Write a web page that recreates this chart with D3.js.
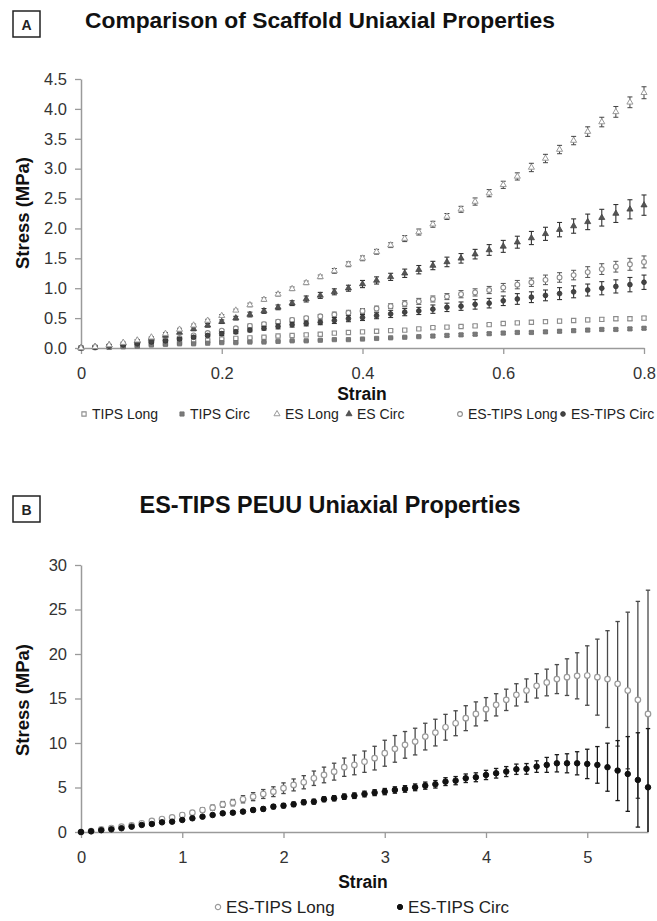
<!DOCTYPE html>
<html>
<head>
<meta charset="utf-8">
<script src="https://cdn.jsdelivr.net/npm/d3@7"></script>
<style>
  html, body { margin: 0; padding: 0; background: #fff; }
  svg { display: block; font-family: "Liberation Sans", Arial, sans-serif; }
</style>
</head>
<body>
<svg id="chart" width="657" height="921"></svg>
<script>
"use strict";

// ---- Panel A data (strain 0 - 0.8, stress in MPa) ----
var strainA = [0, 0.02, 0.04, 0.06, 0.08, 0.10, 0.12, 0.14, 0.16, 0.18, 0.20, 0.22, 0.24, 0.26, 0.28, 0.30, 0.32, 0.34, 0.36, 0.38, 0.40,
  0.42, 0.44, 0.46, 0.48, 0.50, 0.52, 0.54, 0.56, 0.58, 0.60, 0.62, 0.64, 0.66, 0.68, 0.70, 0.72, 0.74, 0.76, 0.78, 0.80];

var tipsLong = [0, 0.01, 0.02, 0.03, 0.05, 0.07, 0.08, 0.10, 0.12, 0.13, 0.15, 0.16, 0.17, 0.18, 0.20, 0.21, 0.22, 0.23, 0.25, 0.26, 0.27,
  0.28, 0.29, 0.30, 0.32, 0.34, 0.35, 0.36, 0.37, 0.39, 0.41, 0.42, 0.43, 0.44, 0.45, 0.46, 0.47, 0.48, 0.49, 0.49, 0.50];
var tipsLongErr = [0, 0, 0.01, 0.01, 0.01, 0.01, 0.01, 0.01, 0.01, 0.01, 0.01, 0.01, 0.01, 0.01, 0.01, 0.01, 0.02, 0.02, 0.02, 0.02, 0.02,
  0.02, 0.02, 0.02, 0.02, 0.02, 0.02, 0.02, 0.02, 0.02, 0.02, 0.02, 0.03, 0.03, 0.03, 0.03, 0.03, 0.03, 0.03, 0.03, 0.03];

var tipsCirc = [0, 0.01, 0.01, 0.02, 0.03, 0.05, 0.06, 0.07, 0.07, 0.08, 0.09, 0.09, 0.10, 0.10, 0.11, 0.12, 0.12, 0.13, 0.14, 0.14, 0.15,
  0.16, 0.17, 0.18, 0.19, 0.20, 0.21, 0.22, 0.23, 0.24, 0.25, 0.26, 0.26, 0.27, 0.28, 0.29, 0.30, 0.31, 0.31, 0.32, 0.33];
var tipsCircErr = [0, 0, 0, 0.01, 0.01, 0.01, 0.01, 0.01, 0.01, 0.01, 0.01, 0.01, 0.01, 0.01, 0.01, 0.01, 0.01, 0.01, 0.01, 0.01, 0.01,
  0.01, 0.01, 0.01, 0.01, 0.02, 0.02, 0.02, 0.02, 0.02, 0.02, 0.02, 0.02, 0.02, 0.02, 0.02, 0.02, 0.02, 0.02, 0.02, 0.02];

var esLong = [0, 0.02, 0.05, 0.09, 0.13, 0.18, 0.24, 0.31, 0.38, 0.46, 0.54, 0.63, 0.72, 0.81, 0.90, 0.99, 1.09, 1.19, 1.29, 1.40, 1.50,
  1.61, 1.72, 1.83, 1.94, 2.07, 2.20, 2.32, 2.45, 2.59, 2.73, 2.87, 3.02, 3.17, 3.32, 3.47, 3.62, 3.78, 3.95, 4.11, 4.27];
var esLongErr = [0, 0.01, 0.01, 0.01, 0.01, 0.01, 0.02, 0.02, 0.02, 0.02, 0.02, 0.02, 0.03, 0.03, 0.03, 0.03, 0.03, 0.03, 0.04, 0.04, 0.04,
  0.04, 0.04, 0.05, 0.05, 0.05, 0.05, 0.05, 0.06, 0.06, 0.06, 0.06, 0.07, 0.07, 0.07, 0.07, 0.08, 0.08, 0.09, 0.09, 0.10];

var esCirc = [0, 0.02, 0.05, 0.08, 0.12, 0.16, 0.21, 0.26, 0.32, 0.38, 0.44, 0.50, 0.56, 0.62, 0.68, 0.75, 0.82, 0.88, 0.94, 1.00, 1.07,
  1.13, 1.19, 1.25, 1.31, 1.38, 1.44, 1.50, 1.57, 1.64, 1.70, 1.77, 1.84, 1.91, 1.98, 2.04, 2.11, 2.18, 2.25, 2.32, 2.39];
var esCircErr = [0, 0.01, 0.01, 0.01, 0.02, 0.02, 0.02, 0.02, 0.03, 0.03, 0.03, 0.03, 0.04, 0.04, 0.04, 0.04, 0.05, 0.05, 0.05, 0.05, 0.06,
  0.06, 0.06, 0.07, 0.07, 0.07, 0.08, 0.08, 0.08, 0.09, 0.10, 0.10, 0.11, 0.11, 0.12, 0.12, 0.13, 0.14, 0.15, 0.16, 0.17];

var esTipsLongA = [0, 0.01, 0.03, 0.05, 0.08, 0.11, 0.14, 0.17, 0.21, 0.25, 0.29, 0.33, 0.37, 0.40, 0.44, 0.47, 0.50, 0.53, 0.56, 0.59, 0.62,
  0.66, 0.70, 0.74, 0.78, 0.82, 0.86, 0.90, 0.93, 0.97, 1.01, 1.06, 1.10, 1.14, 1.18, 1.22, 1.27, 1.32, 1.36, 1.40, 1.44];
var esTipsLongAErr = [0, 0.01, 0.01, 0.01, 0.01, 0.01, 0.02, 0.02, 0.02, 0.02, 0.02, 0.02, 0.03, 0.03, 0.03, 0.03, 0.03, 0.03, 0.04, 0.04, 0.04,
  0.04, 0.04, 0.05, 0.05, 0.05, 0.05, 0.06, 0.06, 0.06, 0.07, 0.07, 0.07, 0.08, 0.08, 0.08, 0.09, 0.09, 0.09, 0.10, 0.10];

var esTipsCircA = [0, 0.01, 0.03, 0.05, 0.07, 0.10, 0.12, 0.15, 0.18, 0.21, 0.24, 0.27, 0.30, 0.33, 0.36, 0.39, 0.41, 0.43, 0.46, 0.49, 0.51,
  0.54, 0.57, 0.60, 0.62, 0.65, 0.68, 0.70, 0.73, 0.75, 0.79, 0.82, 0.85, 0.88, 0.91, 0.94, 0.97, 1.00, 1.03, 1.06, 1.10];
var esTipsCircAErr = [0, 0.01, 0.01, 0.01, 0.01, 0.02, 0.02, 0.02, 0.02, 0.02, 0.03, 0.03, 0.03, 0.03, 0.04, 0.04, 0.04, 0.04, 0.05, 0.05, 0.05,
  0.05, 0.06, 0.06, 0.06, 0.07, 0.07, 0.07, 0.08, 0.08, 0.08, 0.09, 0.09, 0.09, 0.10, 0.10, 0.10, 0.11, 0.11, 0.12, 0.12];

var yTicksA = [0, 0.5, 1.0, 1.5, 2.0, 2.5, 3.0, 3.5, 4.0, 4.5];
var xTicksA = [0, 0.2, 0.4, 0.6, 0.8];

// ---- Panel B data (strain 0 - 5.6) ----
var strainB = [0, 0.1, 0.2, 0.3, 0.4, 0.5, 0.6, 0.7, 0.8, 0.9, 1.0, 1.1, 1.2, 1.3, 1.4, 1.5, 1.6, 1.7, 1.8, 1.9,
  2.0, 2.1, 2.2, 2.3, 2.4, 2.5, 2.6, 2.7, 2.8, 2.9, 3.0, 3.1, 3.2, 3.3, 3.4, 3.5, 3.6, 3.7, 3.8, 3.9,
  4.0, 4.1, 4.2, 4.3, 4.4, 4.5, 4.6, 4.7, 4.8, 4.9, 5.0, 5.1, 5.2, 5.3, 5.4, 5.5, 5.6];

var esTipsLongB = [0, 0.10, 0.30, 0.45, 0.60, 0.75, 0.98, 1.24, 1.46, 1.65, 1.91, 2.17, 2.47, 2.73, 3.10, 3.30, 3.68, 3.97, 4.27, 4.53,
  4.92, 5.29, 5.59, 6.04, 6.41, 6.78, 7.28, 7.54, 7.90, 8.30, 8.85, 9.34, 9.79, 10.16, 10.72, 11.17, 11.77, 12.22, 12.79, 13.27,
  13.80, 14.29, 14.85, 15.41, 15.90, 16.42, 16.80, 17.18, 17.40, 17.55, 17.58, 17.40, 17.18, 16.65, 15.90, 14.85, 13.27];
var esTipsLongBErr = [0, 0.03, 0.05, 0.06, 0.08, 0.10, 0.12, 0.14, 0.16, 0.18, 0.20, 0.23, 0.26, 0.29, 0.32, 0.35, 0.40, 0.45, 0.50, 0.55,
  0.60, 0.67, 0.74, 0.81, 0.88, 0.95, 1.03, 1.11, 1.20, 1.33, 1.46, 1.50, 1.50, 1.50, 1.50, 1.50, 1.45, 1.40, 1.40, 1.35,
  1.30, 1.25, 1.20, 1.25, 1.30, 1.37, 1.50, 1.63, 2.06, 2.59, 3.34, 4.27, 5.44, 7.00, 8.80, 11.06, 13.90];

var esTipsCircB = [0, 0.08, 0.20, 0.30, 0.42, 0.60, 0.79, 0.90, 1.09, 1.16, 1.35, 1.54, 1.72, 1.91, 2.10, 2.17, 2.29, 2.47, 2.59, 2.85,
  2.96, 3.11, 3.34, 3.41, 3.68, 3.79, 3.97, 4.08, 4.27, 4.42, 4.54, 4.72, 4.84, 5.02, 5.21, 5.36, 5.66, 5.77, 6.04, 6.15,
  6.41, 6.60, 6.79, 7.05, 7.09, 7.35, 7.54, 7.72, 7.72, 7.72, 7.65, 7.54, 7.28, 6.90, 6.52, 5.85, 5.02];
var esTipsCircBErr = [0, 0.03, 0.05, 0.06, 0.08, 0.09, 0.10, 0.11, 0.12, 0.13, 0.14, 0.15, 0.16, 0.17, 0.18, 0.19, 0.20, 0.21, 0.22, 0.23,
  0.24, 0.25, 0.26, 0.27, 0.28, 0.29, 0.30, 0.31, 0.32, 0.33, 0.35, 0.36, 0.37, 0.38, 0.40, 0.42, 0.44, 0.46, 0.48, 0.50,
  0.52, 0.54, 0.56, 0.58, 0.60, 0.65, 0.84, 0.97, 1.07, 1.30, 1.65, 2.06, 2.70, 3.37, 4.20, 5.30, 6.60];

var yTicksB = [0, 5, 10, 15, 20, 25, 30];
var xTicksB = [0, 1, 2, 3, 4, 5];

var AXIS_COLOR = "#9a9a9a";
var TICK_TEXT_COLOR = "#333";

var svg = d3.select("#chart");
svg.append("rect").attr("width", 657).attr("height", 921).attr("fill", "#fff");

// small helper: series -> array of {x, y, e}
function zipSeries(xs, ys, es) {
  return xs.map(function (x, i) { return { x: x, y: ys[i], e: es[i] }; });
}

function panelLabel(letter, x, y) {
  var g = svg.append("g").attr("transform", "translate(" + x + "," + y + ")");
  g.append("rect").attr("width", 27).attr("height", 26)
    .attr("fill", "#fff").attr("stroke", "#222").attr("stroke-width", 1.5);
  g.append("text").attr("x", 13.5).attr("y", 18.5).attr("text-anchor", "middle")
    .attr("font-size", "14px").attr("font-weight", "bold").attr("fill", "#222").text(letter);
}

function renderAxes(x, y, xTicks, yTicks, xFmt, yFmt) {
  var gx = svg.append("g")
    .attr("transform", "translate(0," + y.range()[0] + ")")
    .call(d3.axisBottom(x).tickValues(xTicks).tickFormat(xFmt).tickSizeInner(6).tickSizeOuter(0).tickPadding(13));
  var gy = svg.append("g")
    .attr("transform", "translate(" + x.range()[0] + ",0)")
    .call(d3.axisLeft(y).tickValues(yTicks).tickFormat(yFmt).tickSizeInner(6).tickSizeOuter(0).tickPadding(8));
  [gx, gy].forEach(function (g) {
    g.select(".domain").attr("stroke", AXIS_COLOR).attr("stroke-width", 1.5);
    g.selectAll(".tick line").attr("stroke", AXIS_COLOR).attr("stroke-width", 1.3);
    g.selectAll(".tick text").attr("fill", TICK_TEXT_COLOR)
      .style("font-family", "'Liberation Sans', Arial, sans-serif").style("font-size", "16.5px");
  });
}

// error bars + markers for one series
function renderSeries(x, y, data, opt, clipId) {
  var g = svg.append("g").attr("clip-path", clipId ? "url(#" + clipId + ")" : null);
  var cap = opt.cap;
  var bars = g.selectAll("g.err").data(data.filter(function (d) { return d.e > 0; }))
    .enter().append("g").attr("class", "err")
    .attr("stroke", opt.errColor).attr("stroke-width", opt.errWidth);
  bars.append("line")
    .attr("x1", function (d) { return x(d.x); }).attr("x2", function (d) { return x(d.x); })
    .attr("y1", function (d) { return y(d.y + d.e); }).attr("y2", function (d) { return y(d.y - d.e); });
  bars.append("line")
    .attr("x1", function (d) { return x(d.x) - cap; }).attr("x2", function (d) { return x(d.x) + cap; })
    .attr("y1", function (d) { return y(d.y + d.e); }).attr("y2", function (d) { return y(d.y + d.e); });
  bars.append("line")
    .attr("x1", function (d) { return x(d.x) - cap; }).attr("x2", function (d) { return x(d.x) + cap; })
    .attr("y1", function (d) { return y(d.y - d.e); }).attr("y2", function (d) { return y(d.y - d.e); });

  var sym = d3.symbol().type(opt.symbol).size(opt.size);
  svg.append("g").selectAll("path")
    .data(data).enter().append("path")
    .attr("d", sym)
    .attr("transform", function (d) { return "translate(" + x(d.x) + "," + y(d.y) + ")"; })
    .attr("fill", opt.fill).attr("stroke", opt.stroke).attr("stroke-width", opt.strokeWidth);
}

function legendItem(opt, mx, my, label, fontSize, size) {
  svg.append("path")
    .attr("d", d3.symbol().type(opt.symbol).size(size)())
    .attr("transform", "translate(" + mx + "," + my + ")")
    .attr("fill", opt.fill).attr("stroke", opt.stroke).attr("stroke-width", opt.strokeWidth);
  svg.append("text").attr("x", mx + 8).attr("y", my + fontSize * 0.36)
    .attr("font-size", fontSize + "px").attr("fill", "#222").text(label);
}

function axisTitles(xLabel, xPos, yPos, yLabel, yx, yy) {
  svg.append("text").attr("x", xPos).attr("y", yPos).attr("text-anchor", "middle")
    .attr("font-size", "17.5px").attr("font-weight", "bold").attr("fill", "#111").text(xLabel);
  svg.append("text").attr("transform", "translate(" + yx + "," + yy + ") rotate(-90)")
    .attr("text-anchor", "middle")
    .attr("font-size", "18.5px").attr("font-weight", "bold").attr("fill", "#111").text(yLabel);
}

var defs = svg.append("defs");

// ================= Panel A =================
var xA = d3.scaleLinear().domain([0, 0.8]).range([81, 644]);
var yA = d3.scaleLinear().domain([0, 4.5]).range([348, 79]);

panelLabel("A", 13, 11);
svg.append("text").attr("x", 320).attr("y", 28).attr("text-anchor", "middle")
  .attr("font-size", "22.8px").attr("font-weight", "bold").attr("fill", "#111")
  .text("Comparison of Scaffold Uniaxial Properties");

renderAxes(xA, yA, xTicksA, yTicksA,
  function (d) { return d === 0 ? "0" : d3.format(".1f")(d); },
  d3.format(".1f"));

var styleA = {
  tipsLong:   { symbol: d3.symbolSquare,   size: 18, fill: "#fff",    stroke: "#8c8c8c", strokeWidth: 1.1, errColor: "#666", errWidth: 1, cap: 2.5 },
  tipsCirc:   { symbol: d3.symbolSquare,   size: 18, fill: "#7a7a7a", stroke: "#6e6e6e", strokeWidth: 0.8, errColor: "#555", errWidth: 1, cap: 2.5 },
  esLong:     { symbol: d3.symbolTriangle, size: 16, fill: "#fff",    stroke: "#9a9a9a", strokeWidth: 1,   errColor: "#444", errWidth: 1, cap: 2.5 },
  esCirc:     { symbol: d3.symbolTriangle, size: 16, fill: "#555",    stroke: "#444",    strokeWidth: 0.8, errColor: "#333", errWidth: 1.1, cap: 2.5 },
  esTipsLong: { symbol: d3.symbolCircle,   size: 18, fill: "#fff",    stroke: "#8c8c8c", strokeWidth: 1.1, errColor: "#555", errWidth: 1, cap: 2.5 },
  esTipsCirc: { symbol: d3.symbolCircle,   size: 18, fill: "#444",    stroke: "#333",    strokeWidth: 0.8, errColor: "#333", errWidth: 1.1, cap: 2.5 }
};

renderSeries(xA, yA, zipSeries(strainA, tipsLong, tipsLongErr), styleA.tipsLong);
renderSeries(xA, yA, zipSeries(strainA, tipsCirc, tipsCircErr), styleA.tipsCirc);
renderSeries(xA, yA, zipSeries(strainA, esTipsLongA, esTipsLongAErr), styleA.esTipsLong);
renderSeries(xA, yA, zipSeries(strainA, esTipsCircA, esTipsCircAErr), styleA.esTipsCirc);
renderSeries(xA, yA, zipSeries(strainA, esCirc, esCircErr), styleA.esCirc);
renderSeries(xA, yA, zipSeries(strainA, esLong, esLongErr), styleA.esLong);

axisTitles("Strain", 362, 400, "Stress (MPa)", 29, 213);

legendItem(styleA.tipsLong, 84, 414, "TIPS Long", 14, 18);
legendItem(styleA.tipsCirc, 182, 414, "TIPS Circ", 14, 18);
legendItem(styleA.esLong, 277, 414, "ES Long", 14, 16);
legendItem(styleA.esCirc, 349, 414, "ES Circ", 14, 16);
legendItem(styleA.esTipsLong, 460, 414, "ES-TIPS Long", 14, 18);
legendItem(styleA.esTipsCirc, 563, 414, "ES-TIPS Circ", 14, 18);

// ================= Panel B =================
var xB = d3.scaleLinear().domain([0, 5.6]).range([81, 648]);
var yB = d3.scaleLinear().domain([0, 30]).range([832, 565]);

defs.append("clipPath").attr("id", "clipB").append("rect")
  .attr("x", 70).attr("y", 540).attr("width", 590).attr("height", 832 - 540);

panelLabel("B", 13, 496);
svg.append("text").attr("x", 330).attr("y", 513).attr("text-anchor", "middle")
  .attr("font-size", "23.4px").attr("font-weight", "bold").attr("fill", "#111")
  .text("ES-TIPS PEUU Uniaxial Properties");

renderAxes(xB, yB, xTicksB, yTicksB, d3.format("d"), d3.format("d"));

var styleB = {
  long: { symbol: d3.symbolCircle, size: 24, fill: "#fff",    stroke: "#9a9a9a", strokeWidth: 1.2, errColor: "#4a4a4a", errWidth: 1.3, cap: 2.2 },
  circ: { symbol: d3.symbolCircle, size: 24, fill: "#111",    stroke: "#111",    strokeWidth: 1,   errColor: "#1a1a1a", errWidth: 1.3, cap: 2.2 }
};

renderSeries(xB, yB, zipSeries(strainB, esTipsLongB, esTipsLongBErr), styleB.long, "clipB");
renderSeries(xB, yB, zipSeries(strainB, esTipsCircB, esTipsCircBErr), styleB.circ, "clipB");

axisTitles("Strain", 363, 888, "Stress (MPa)", 29, 700);

legendItem(styleB.long, 218, 907, "ES-TIPS Long", 17, 22);
legendItem(styleB.circ, 400, 907, "ES-TIPS Circ", 17, 22);
</script>
</body>
</html>
